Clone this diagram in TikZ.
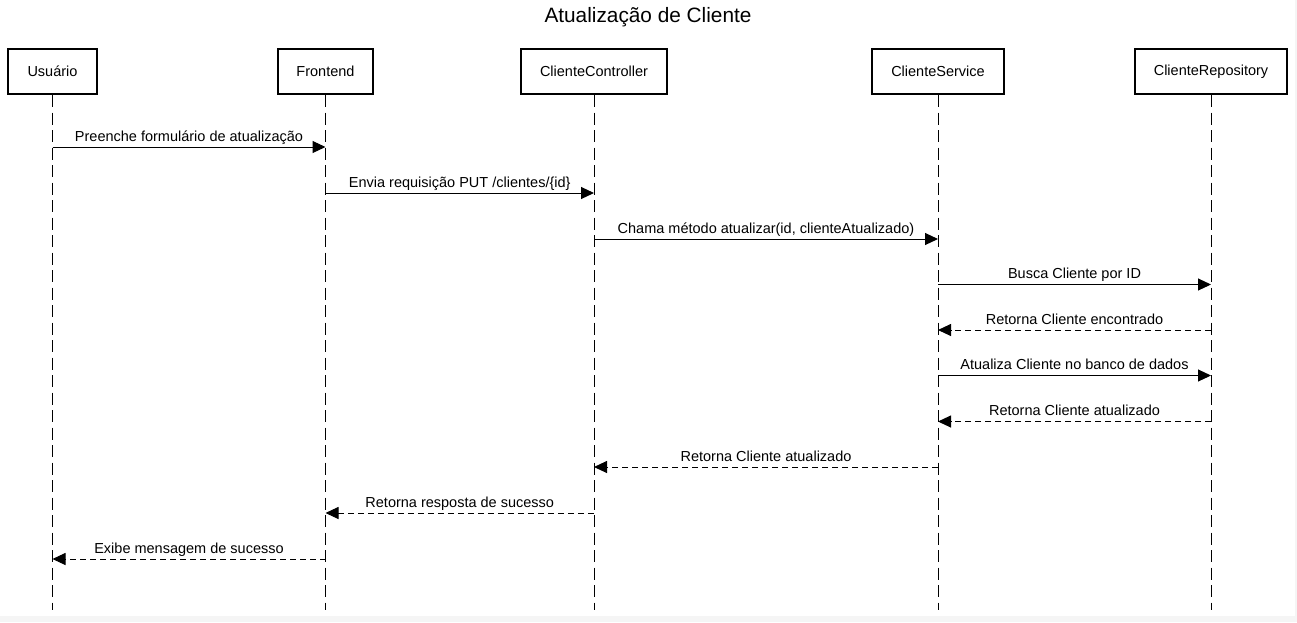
\documentclass[tikz,border=0pt]{standalone}
\usepackage{fontspec}
\setmainfont{Liberation Sans}
\usetikzlibrary{arrows.meta}
\definecolor{bgray}{HTML}{F5F5F5}
\tikzset{
  actor/.style={draw=black, line width=2pt, fill=white, minimum height=45pt, inner sep=0pt, font=\fontsize{14.5}{16}\selectfont},
  lifeline/.style={draw=black, line width=1pt, dash pattern=on 12pt off 5.5pt},
  msg/.style={draw=black, line width=1pt, -{Triangle[length=13pt,width=12pt]}},
  ret/.style={msg, dash pattern=on 6pt off 4pt},
  lbl/.style={font=\fontsize{14.5}{16}\selectfont, inner sep=0pt, anchor=base}
}
\begin{document}
\begin{tikzpicture}[x=1pt,y=-1pt]
\fill[bgray] (0,0) rectangle (1297,622);
\fill[white] (0,0) rectangle (1295,616);
\useasboundingbox (0,0) rectangle (1297,622);

\node[font=\fontsize{20.8}{24}\selectfont, inner sep=0pt] (title) at (648,17) {Atualização de Cliente};

\node[actor, minimum width=89pt] (u) at (52.5,71.5) {Usuário};
\node[actor, minimum width=95pt] (f) at (325.5,71.5) {Frontend};
\node[actor, minimum width=146pt] (c) at (594,71.5) {ClienteController};
\node[actor, minimum width=132pt] (s) at (938,71.5) {ClienteService};
\node[actor, minimum width=152pt] (r) at (1211,71.5) {ClienteRepository};

\foreach \n in {u, f, c, s, r}{
  \coordinate (\n end) at (\n.south |- 0,610);
  \draw[lifeline] (\n.south) -- (\n end);
}

% messages
\foreach \i/\a/\b/\st/\y/\t in {
  1/u/f/msg/147/{Preenche formulário de atualização},
  2/f/c/msg/193/{Envia requisição PUT /clientes/\{id\}},
  3/c/s/msg/239/{Chama método atualizar(id, clienteAtualizado)},
  4/s/r/msg/284.5/{Busca Cliente por ID},
  5/r/s/ret/330/{Retorna Cliente encontrado},
  6/s/r/msg/375.5/{Atualiza Cliente no banco de dados},
  7/r/s/ret/421.5/{Retorna Cliente atualizado},
  8/s/c/ret/467/{Retorna Cliente atualizado},
  9/c/f/ret/513/{Retorna resposta de sucesso},
  10/f/u/ret/559/{Exibe mensagem de sucesso}}{
  \coordinate (m\i a) at (\a.south |- 0,\y);
  \coordinate (m\i b) at (\b.south |- 0,\y);
  \draw[\st] (m\i a) -- (m\i b) node[lbl, midway, yshift=6pt] {\t};
}
\end{tikzpicture}
\end{document}
